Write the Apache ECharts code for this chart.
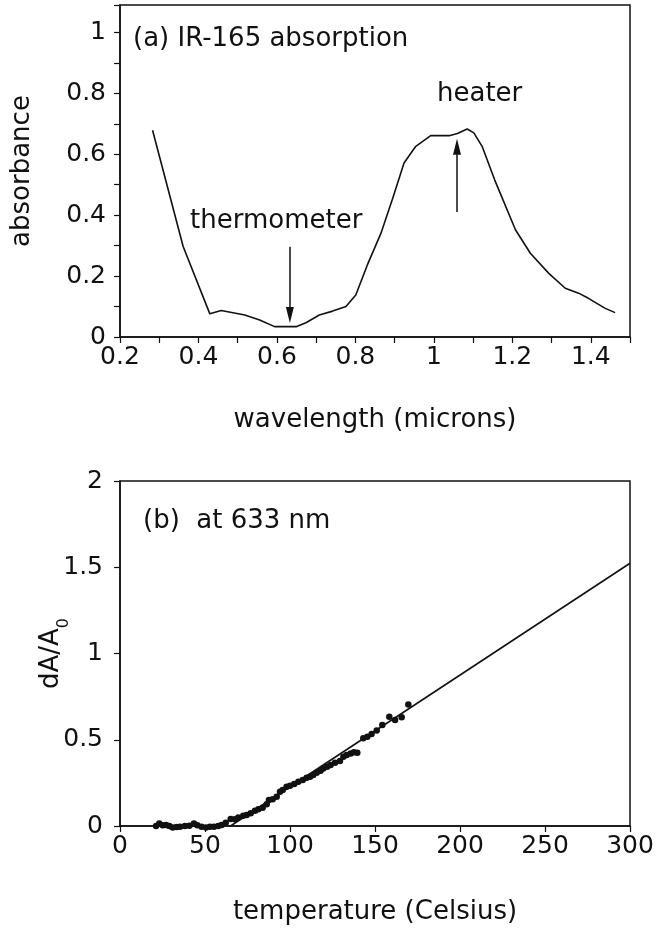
<!DOCTYPE html>
<html>
<head>
<meta charset="utf-8">
<script src="https://cdn.jsdelivr.net/npm/echarts@6/dist/echarts.min.js"></script>
<style>html,body{margin:0;padding:0;background:#fff}#c{width:657px;height:929px}</style>
</head>
<body>
<div id="c"></div>
<script>
// (a) IR-165 absorption spectrum: wavelength (microns), absorbance
const absWavelength = [0.283,0.361,0.429,0.458,0.518,0.556,0.594,0.649,0.674,0.708,0.742,0.776,0.801,0.830,0.865,0.895,0.924,0.954,0.992,1.039,1.060,1.085,1.102,1.123,1.155,1.208,1.246,1.293,1.335,1.369,1.394,1.437,1.462];
const absValue      = [0.679,0.297,0.076,0.087,0.072,0.056,0.034,0.034,0.047,0.072,0.085,0.100,0.138,0.235,0.340,0.455,0.571,0.626,0.661,0.661,0.668,0.683,0.670,0.626,0.516,0.352,0.275,0.209,0.160,0.144,0.127,0.094,0.080];

// arrows (x, yStart, yEnd)
const thermoArrow = [0.633, 0.296, 0.072];
const heaterArrow = [1.059, 0.41, 0.625];

// (b) dA/A0 at 633 nm vs temperature (Celsius)
const tempC = [21.2,23.1,25.1,27.1,29.0,31.0,33.3,35.3,38.2,40.8,43.5,45.5,48.0,50.6,52.9,55.3,57.8,59.8,62.2,65.1,67.6,69.6,72.5,74.5,76.9,79.4,81.4,83.9,86.3,87.6,89.8,92.2,94.1,95.7,98.0,100.0,102.5,104.9,107.5,109.8,111.8,113.7,115.7,118.0,119.6,121.9,123.9,126.5,129.4,131.4,133.3,135.7,137.6,139.6,143.1,145.5,148.0,151.0,154.3,158.4,161.8,165.7,169.6];
const dA    = [0.000,0.015,0.004,0.006,0.000,-0.008,-0.006,-0.004,0.000,0.002,0.015,0.004,-0.004,-0.008,-0.004,-0.004,0.000,0.006,0.019,0.041,0.039,0.050,0.060,0.064,0.074,0.089,0.097,0.106,0.126,0.151,0.155,0.170,0.199,0.209,0.228,0.234,0.243,0.257,0.267,0.280,0.286,0.296,0.309,0.321,0.334,0.344,0.354,0.367,0.377,0.402,0.412,0.421,0.427,0.425,0.508,0.518,0.533,0.553,0.586,0.634,0.615,0.630,0.705];
const fitTemp = [65, 300];
const fitVal  = [0, 1.523];

const FONT = 'DejaVu Sans';
const INK = '#111';

function tenthsLabel(v){
  const t = Math.round(v*10);
  if (Math.abs(v*10 - t) > 1e-6) return '';
  if (t % 2 !== 0) return '';
  return String(t/10);
}

const axisCommon = {
  axisLine:{show:true,lineStyle:{color:INK,width:1.5}},
  axisTick:{show:true,inside:false,length:6,lineStyle:{color:INK,width:1.2}},
  splitLine:{show:false},
  axisLabel:{color:INK,fontFamily:FONT,fontSize:25,margin:8},
  nameTextStyle:{color:INK,fontFamily:FONT,fontSize:26},
  nameLocation:'middle',
  nameMoveOverlap:false
};

const chart = echarts.init(document.getElementById('c'), null, {renderer:'canvas'});
chart.setOption({
  animation:false,
  backgroundColor:'#fff',
  grid:[
    {left:120,right:27,top:5,bottom:592,show:true,borderColor:INK,borderWidth:1.5,containLabel:false},
    {left:120,right:27,top:481,bottom:103,show:true,borderColor:INK,borderWidth:1.5,containLabel:false}
  ],
  xAxis:[
    Object.assign({}, axisCommon, {gridIndex:0,type:'value',min:0.2,max:1.5,interval:0.1,
      name:'wavelength (microns)',nameGap:70,
      axisLabel:Object.assign({}, axisCommon.axisLabel,{formatter:tenthsLabel, showMaxLabel:true, showMinLabel:true})}),
    Object.assign({}, axisCommon, {gridIndex:1,type:'value',min:0,max:300,interval:50,
      name:'temperature (Celsius)',nameGap:73})
  ],
  yAxis:[
    Object.assign({}, axisCommon, {gridIndex:0,type:'value',min:0,max:1.09,interval:0.1,
      name:'absorbance',nameGap:85,
      axisLabel:Object.assign({}, axisCommon.axisLabel,{formatter:tenthsLabel, margin:14})}),
    Object.assign({}, axisCommon, {gridIndex:1,type:'value',min:0,max:2,interval:0.5,
      name:'dA/A{sub|0}',nameGap:56,
      nameTextStyle:{color:INK,fontFamily:FONT,fontSize:26,
        rich:{sub:{fontFamily:FONT,fontSize:16,color:INK,verticalAlign:'bottom',lineHeight:16,padding:[0,0,-8,0]}}},
      axisLabel:Object.assign({}, axisCommon.axisLabel,{margin:17})})
  ],
  series:[
    {type:'line',xAxisIndex:0,yAxisIndex:0,symbol:'none',
      lineStyle:{color:INK,width:1.6},
      data:absWavelength.map((x,i)=>[x,absValue[i]]),
      markLine:{silent:true,symbol:['none','triangle'],symbolSize:[8,16],
        lineStyle:{color:INK,width:1.5,type:'solid'},label:{show:false},
        data:[
          [{coord:[thermoArrow[0],thermoArrow[1]]},{coord:[thermoArrow[0],thermoArrow[2]]}],
          [{coord:[heaterArrow[0],heaterArrow[1]]},{coord:[heaterArrow[0],heaterArrow[2]]}]
        ]}
    },
    {type:'line',xAxisIndex:1,yAxisIndex:1,symbol:'none',
      lineStyle:{color:INK,width:1.6},
      data:fitTemp.map((x,i)=>[x,fitVal[i]])},
    {type:'scatter',xAxisIndex:1,yAxisIndex:1,symbol:'circle',symbolSize:6.5,clip:false,
      itemStyle:{color:INK,opacity:1},
      data:tempC.map((x,i)=>[x,dA[i]])}
  ],
  graphic:[
    {type:'text',left:133,top:26,style:{text:'(a) IR-165 absorption',font:'26px "DejaVu Sans"',fill:INK}},
    {type:'text',left:437,top:81,style:{text:'heater',font:'26px "DejaVu Sans"',fill:INK}},
    {type:'text',left:190,top:208,style:{text:'thermometer',font:'26px "DejaVu Sans"',fill:INK}},
    {type:'text',left:143,top:508,style:{text:'(b)  at 633 nm',font:'26px "DejaVu Sans"',fill:INK}}
  ]
});
</script>
</body>
</html>
